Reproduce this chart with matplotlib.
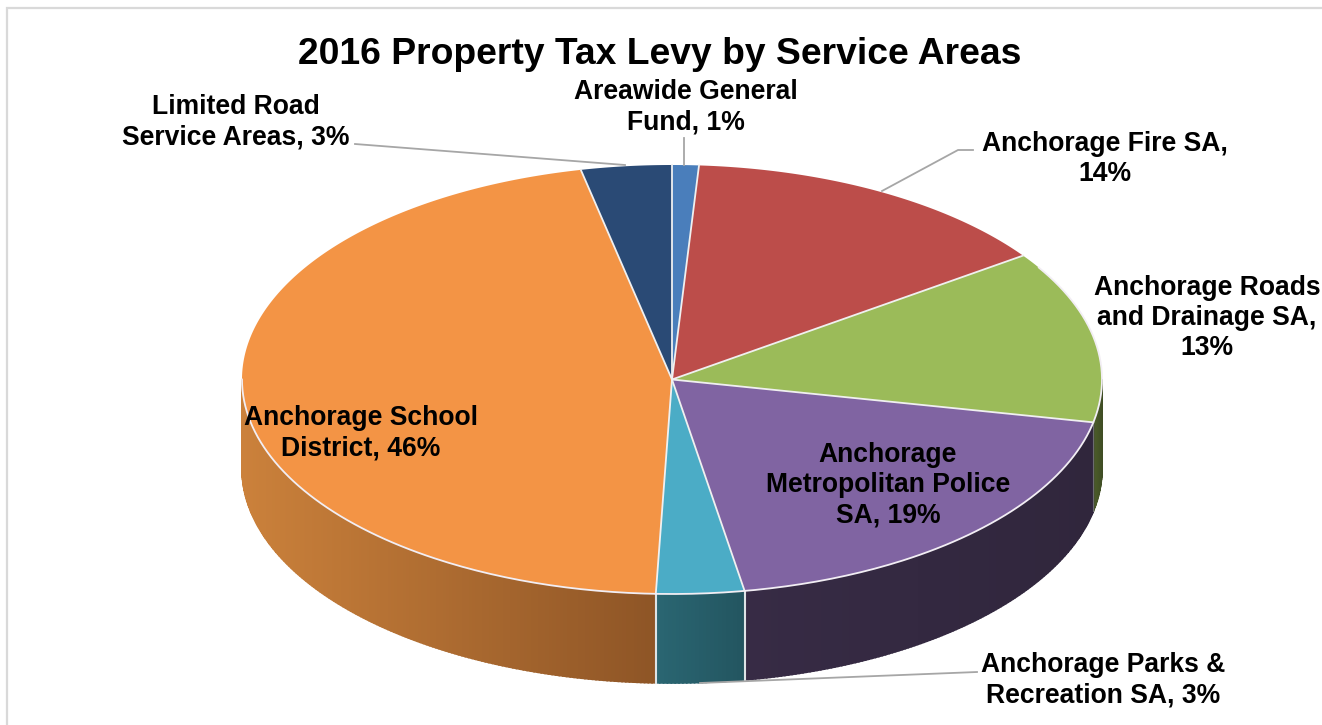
import numpy as np
import matplotlib
matplotlib.use("Agg")
import matplotlib.pyplot as plt
from matplotlib.colors import to_rgb

title = "2016 Property Tax Levy by Service Areas"
categories = ["Areawide General\nFund", "Anchorage Fire SA,\n", "Anchorage Roads\nand Drainage SA,\n",
              "Anchorage\nMetropolitan Police\nSA,", "Anchorage Parks &\nRecreation SA,",
              "Anchorage School\nDistrict,", "Limited Road\nService Areas,"]
shown_pct = [1, 14, 13, 19, 3, 46, 3]
shares = [1.0, 14.2, 13.0, 19.1, 3.3, 46.0, 3.4]
top_colors = ["#4A7EBB", "#BC4D4A", "#9BBB59", "#8064A2", "#4BACC6", "#F39445", "#2A4A75"]
side_left = ["#2C4A70", "#70302E", "#4C5C2A", "#372B45", "#2A6672", "#CB813B", "#1E3550"]
side_right = ["#2C4A70", "#70302E", "#3F4D24", "#30263C", "#235560", "#8E5526", "#1E3550"]
label_xy = [(686, 107.5), (1105, 159), (1207, 318), (888, 485), (1103, 680.5), (361, 433.5), (236, 122.5)]

W, H = 1322, 725
CX, CY, RX, RY, DEPTH = 672, 379.5, 430, 214.5, 89
FS = 19.1
GRID = "#D9D9D9"
LEADER = "#A6A6A6"
plt.rcParams["font.family"] = ["Liberation Sans", "DejaVu Sans"]

fig = plt.figure(figsize=(W / 100, H / 100), dpi=100)
ax = fig.add_axes([0, 0, 1, 1])
ax.set_xlim(0, W)
ax.set_ylim(H, 0)
ax.axis("off")

def px(t):
    return CX + RX * np.sin(t)

def py(t):
    return CY - RY * np.cos(t)

# frame
ax.plot([7, 7, W], [H, 8, 8], color=GRID, lw=1.6, zorder=0, solid_joinstyle="miter")

edges = np.cumsum([0] + shares) / sum(shares) * 2 * np.pi

# side walls, front half only
for i in range(len(shares)):
    a = max(edges[i], np.pi / 2)
    b = min(edges[i + 1], 3 * np.pi / 2)
    if a >= b:
        continue
    ts = np.linspace(a, b, max(int(np.degrees(b - a) * 2), 2) + 1)
    xs = px(ts)
    x0, x1 = xs.min(), xs.max()
    cl, cr = np.array(to_rgb(side_left[i])), np.array(to_rgb(side_right[i]))
    for u, v in zip(ts[:-1], ts[1:]):
        f = ((px(u) + px(v)) / 2 - x0) / max(x1 - x0, 1)
        col = cl + (cr - cl) * f
        qx = [px(u), px(v), px(v), px(u)]
        qy = [py(u), py(v), py(v) + DEPTH, py(u) + DEPTH]
        ax.fill(qx, qy, color=col, lw=1.2, zorder=2)

# separators on the walls
for i in range(1, len(shares)):
    t = edges[i]
    if np.pi / 2 < t < 3 * np.pi / 2:
        light = np.cos(t) < -0.9
        ax.plot([px(t), px(t)], [py(t), py(t) + DEPTH],
                color="#DDE3E6" if light else "#6B6B70", lw=1.5 if light else 0.8,
                zorder=3)

# top faces
for i in range(len(shares)):
    ts = np.linspace(edges[i], edges[i + 1], 200)
    ax.fill(np.r_[CX, px(ts)], np.r_[CY, py(ts)], facecolor=top_colors[i],
            edgecolor="none", zorder=4)
for t in edges[:-1]:
    ax.plot([CX, px(t)], [CY, py(t)], color="#F0F0F0", lw=1.3, zorder=5)
ts = np.linspace(edges[3] - 0.75, 3 * np.pi / 2, 300)
ax.plot(px(ts), py(ts), color="#F2EEF4", lw=1.3, zorder=5)

# leader lines
leaders = [([355, 625], [144, 165]), ([684, 684], [138, 165]),
           ([973, 958, 882], [150, 150, 191]), ([977, 700], [672, 683])]
for lx, ly in leaders:
    ax.plot(lx, ly, color=LEADER, lw=1.3, zorder=6)

# text
ax.text(660, 54.5, title, ha="center", va="center", fontsize=26.8, fontweight="bold", color="black", zorder=8)
for cat, pct, (x, y) in zip(categories, shown_pct, label_xy):
    sep = "" if cat.endswith("\n") else " "
    if "," in cat:
        text = f"{cat}{sep}{pct}%"
    else:
        text = f"{cat}, {pct}%"
    ax.text(x, y, text, ha="center", va="center", multialignment="center", fontsize=FS,
            fontweight="bold", color="black", linespacing=1.22, zorder=8)

fig.savefig("out.png", dpi=100, facecolor="white")
